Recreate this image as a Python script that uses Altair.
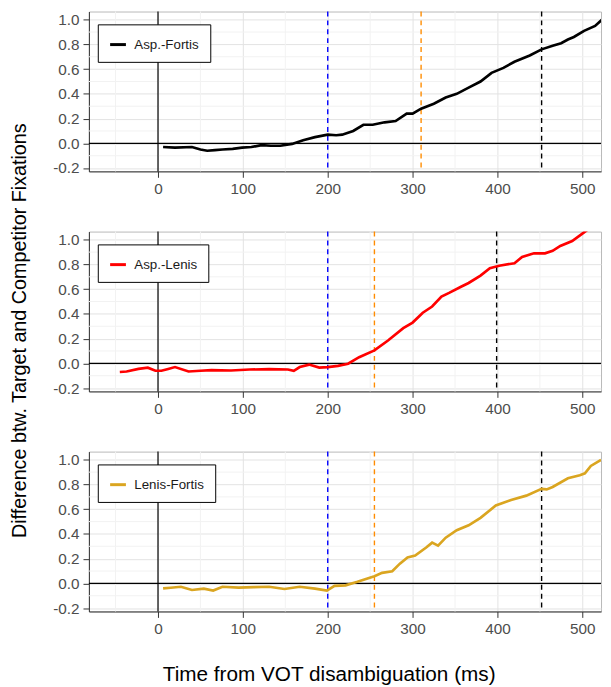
import altair as alt
import pandas as pd

# ---------------- data ----------------
conds = ["Asp.-Fortis", "Asp.-Lenis", "Lenis-Fortis"]
line_colors = ["black", "red", "#DAA520"]

af_t = [6, 20, 40, 50, 58, 67, 76, 88, 99, 110, 122, 133, 144, 158, 171, 185, 200, 210, 217, 230, 242, 253,
        267, 280, 293, 300, 310, 325, 339, 352, 366, 380, 393, 407, 420, 438, 452, 465, 475, 483, 490, 502, 515, 523]
af_y = [-0.03, -0.035, -0.03, -0.05, -0.06, -0.055, -0.05, -0.045, -0.035, -0.03, -0.015, -0.02, -0.02, -0.005,
        0.025, 0.05, 0.07, 0.065, 0.07, 0.1, 0.15, 0.15, 0.17, 0.18, 0.24, 0.24, 0.28, 0.32, 0.37, 0.4, 0.45,
        0.5, 0.57, 0.61, 0.66, 0.71, 0.76, 0.79, 0.81, 0.84, 0.86, 0.91, 0.95, 1.0]

al_t = [-45, -37, -23, -12, -3, 4, 12, 20, 36, 50, 63, 86, 108, 131, 153, 160, 167, 178, 190, 200, 212, 224,
        237, 255, 271, 289, 300, 312, 323, 334, 343, 357, 366, 380, 391, 402, 420, 429, 443, 456, 465, 474,
        488, 500, 506]
al_y = [-0.07, -0.066, -0.045, -0.035, -0.06, -0.06, -0.045, -0.03, -0.066, -0.06, -0.055, -0.058, -0.05,
        -0.047, -0.05, -0.06, -0.03, -0.01, -0.034, -0.03, -0.02, -0.003, 0.05, 0.105, 0.185, 0.285, 0.33,
        0.41, 0.46, 0.54, 0.57, 0.62, 0.65, 0.71, 0.77, 0.79, 0.81, 0.86, 0.89, 0.89, 0.91, 0.95, 0.99,
        1.05, 1.08]

lf_t = [6, 15, 27, 40, 54, 65, 76, 95, 113, 131, 149, 167, 185, 199, 208, 221, 235, 255, 264, 276, 285, 294,
        303, 316, 323, 330, 339, 352, 366, 380, 398, 416, 434, 452, 458, 465, 483, 497, 503, 510, 522]
lf_y = [-0.04, -0.035, -0.027, -0.053, -0.042, -0.058, -0.027, -0.034, -0.03, -0.027, -0.045, -0.027, -0.042,
        -0.058, -0.02, -0.016, 0.013, 0.058, 0.085, 0.098, 0.16, 0.21, 0.225, 0.29, 0.33, 0.305, 0.37, 0.43,
        0.47, 0.53, 0.63, 0.675, 0.71, 0.765, 0.76, 0.78, 0.85, 0.875, 0.89, 0.95, 1.0]

series_t = [af_t, al_t, lf_t]
series_y = [af_y, al_y, lf_y]

# dashed reference lines per panel: blue, orange, black
ref_blue = [200, 200, 200]
ref_orange = [310, 255, 255]
ref_black = [452, 399, 452]
ref_colors = ["blue", "darkorange", "black"]

x_ticks = [0, 100, 200, 300, 400, 500]
y_ticks = [-0.2, 0.0, 0.2, 0.4, 0.6, 0.8, 1.0]
x_minor = [-50, 50, 150, 250, 350, 450]
y_minor = [-0.1, 0.1, 0.3, 0.5, 0.7, 0.9]
x_domain = [-81.4, 522]
y_domain = [-0.227, 1.066]

FONT = "Liberation Sans"
W, H = 519, 162
YTITLE = "Difference btw. Target and Competitor Fixations"
XTITLE = "Time from VOT disambiguation (ms)"


def x_axis(show_title):
    kw = dict(values=x_ticks, format="d", gridColor="#e3e3e3")
    if show_title:
        kw.update(title=XTITLE, titlePadding=27, titleX=243, titleFontSize=21)
    else:
        kw.update(title=None)
    return alt.Axis(**kw)


def y_axis(show_title):
    kw = dict(
        values=y_ticks,
        labelExpr="replace(format(datum.value, '.1f'), '\u2212', '-')",
        gridColor="#e3e3e3",
    )
    if show_title:
        kw.update(title=YTITLE, titleY=100, titlePadding=24, titleFontSize=20)
    else:
        kw.update(title=None)
    return alt.Axis(**kw)


panels = []
for i, cond in enumerate(conds):
    df = pd.DataFrame({"t": series_t[i], "y": series_y[i], "cond": cond})
    refs = pd.DataFrame({"x": [ref_blue[i], ref_orange[i], ref_black[i]], "col": ref_colors})
    zero = pd.DataFrame({"v": [0]})
    mx = pd.DataFrame({"mx": x_minor})
    my = pd.DataFrame({"my": y_minor})

    xs = alt.Scale(domain=x_domain, nice=False, zero=False)
    ys = alt.Scale(domain=y_domain, nice=False, zero=False)
    xa = x_axis(i == 2)
    ya = y_axis(i == 1)

    grid_x = alt.Chart(mx).mark_rule(color="#f2f2f2", strokeWidth=1).encode(
        x=alt.X("mx:Q", scale=xs, axis=xa))
    grid_y = alt.Chart(my).mark_rule(color="#f2f2f2", strokeWidth=1).encode(
        y=alt.Y("my:Q", scale=ys, axis=ya))
    hline = alt.Chart(zero).mark_rule(color="black", strokeWidth=1.2).encode(
        y=alt.Y("v:Q", scale=ys, axis=ya))
    vline = alt.Chart(zero).mark_rule(color="black", strokeWidth=1.2).encode(
        x=alt.X("v:Q", scale=xs, axis=xa))
    dashed = alt.Chart(refs).mark_rule(strokeDash=[5, 4], strokeWidth=1.4).encode(
        x=alt.X("x:Q", scale=xs, axis=xa), color=alt.Color("col:N", scale=None)
    )
    line = alt.Chart(df).mark_line(strokeWidth=2.7, clip=True).encode(
        x=alt.X("t:Q", scale=xs, axis=xa),
        y=alt.Y("y:Q", scale=ys, axis=ya),
        color=alt.Color(
            "cond:N",
            scale=alt.Scale(domain=[cond], range=[line_colors[i]]),
            legend=alt.Legend(
                title=None, orient="none", legendX=9, legendY=13,
                fillColor="white", strokeColor="black", padding=11,
                symbolType="stroke", symbolSize=256, symbolStrokeWidth=3,
                labelFontSize=13.5, labelColor="#1a1a1a", labelFont=FONT, labelOffset=7,
            ),
        ),
    )
    panel = alt.layer(grid_x, grid_y, hline, vline, dashed, line).properties(width=W, height=H)
    panels.append(panel)

chart = (
    alt.vconcat(*panels, spacing=61, bounds="flush")
    .resolve_scale(color="independent")
    .properties(padding={"top": -3, "left": 0, "right": 0, "bottom": 0})
    .configure_view(stroke="#b8b8b8", strokeWidth=1)
    .configure_axis(
        labelFont=FONT, labelFontSize=15.5, labelColor="#4d4d4d", labelOverlap=False,
        titleFont=FONT, titleColor="black", titleFontWeight="normal",
        domainColor="#333333", tickColor="#333333", tickSize=6, labelPadding=4,
        gridWidth=1,
    )
)

chart.save("out.html", embed_options={"renderer": "svg", "actions": False})
